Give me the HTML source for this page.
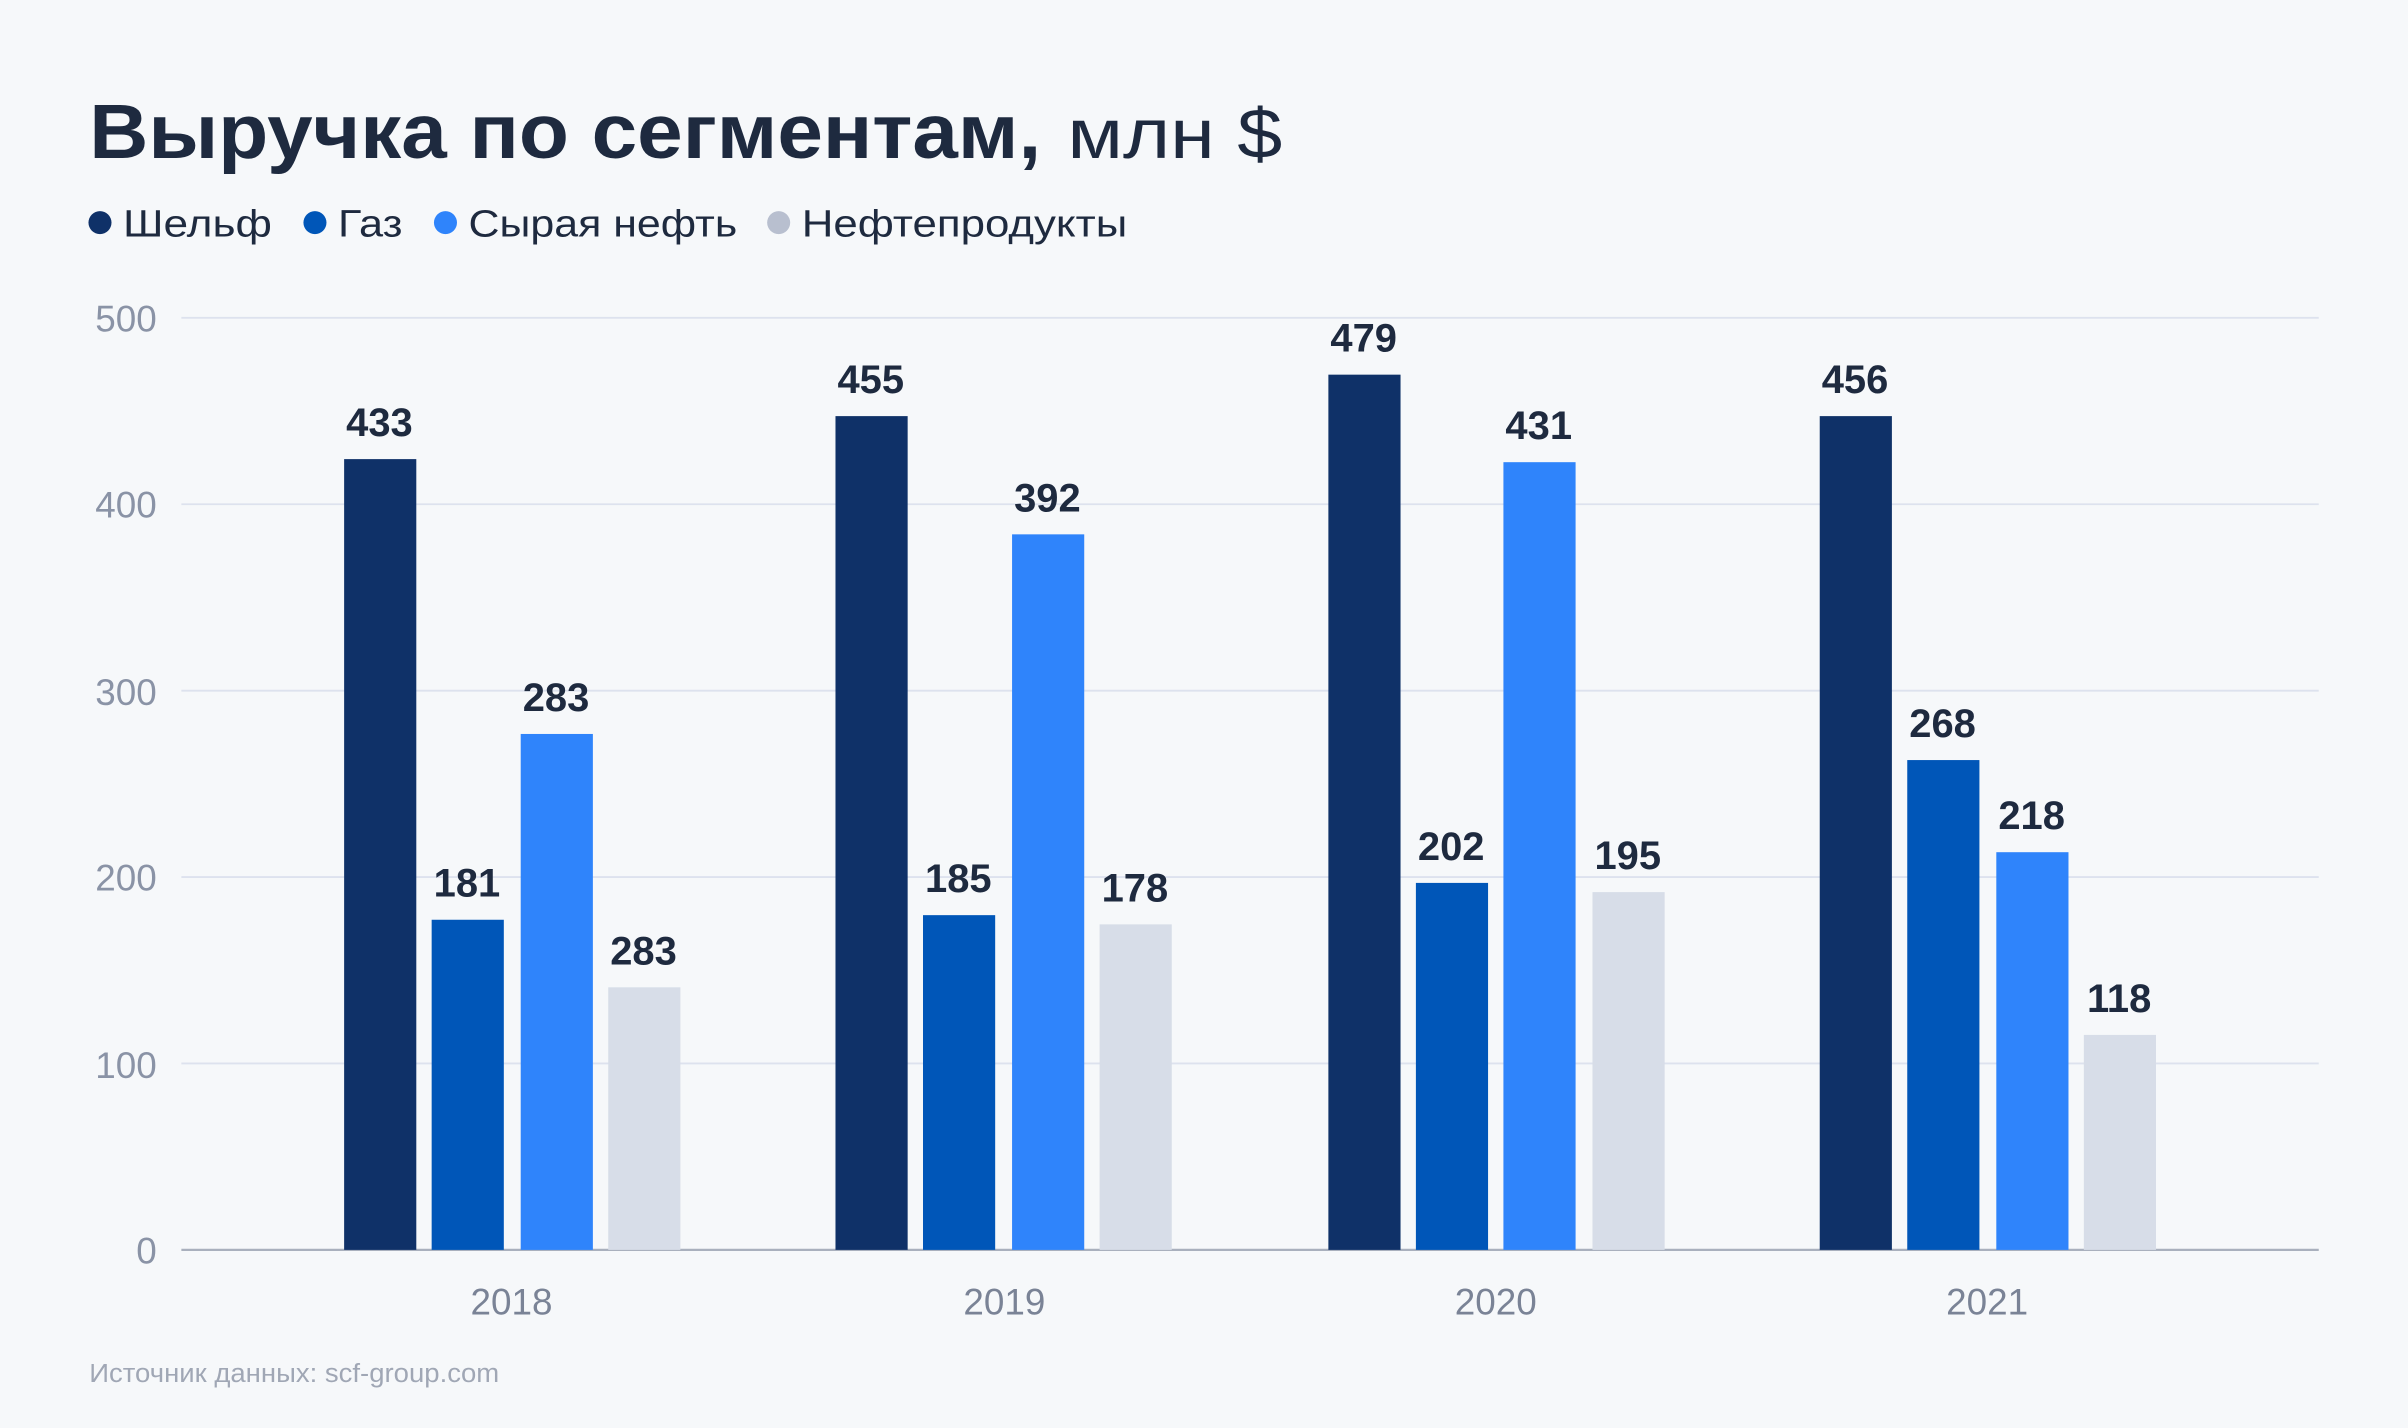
<!DOCTYPE html>
<html><head><meta charset="utf-8"><style>
html,body{margin:0;padding:0;background:#f6f8fa;}
svg{display:block;font-family:"Liberation Sans","DejaVu Sans",sans-serif;}
</style></head><body>
<svg width="2408" height="1428" viewBox="0 0 1568 930" xmlns="http://www.w3.org/2000/svg">
<rect width="1568" height="930" fill="#f6f8fa"/>
<text x="58" y="103" font-size="50" font-weight="bold" fill="#1e2a3f" textLength="620" lengthAdjust="spacingAndGlyphs">Выручка по сегментам,</text>
<text x="695" y="103" font-size="46" fill="#1e2a3f" textLength="140" lengthAdjust="spacingAndGlyphs">млн $</text>
<g font-size="25" fill="#1e2a3f">
<circle cx="65" cy="145" r="7.5" fill="#0f3168"/><text x="80" y="154" textLength="97" lengthAdjust="spacingAndGlyphs">Шельф</text>
<circle cx="205" cy="145" r="7.5" fill="#0056b8"/><text x="220" y="154" textLength="42" lengthAdjust="spacingAndGlyphs">Газ</text>
<circle cx="290" cy="145" r="7.5" fill="#2f84fb"/><text x="305" y="154" textLength="175" lengthAdjust="spacingAndGlyphs">Сырая нефть</text>
<circle cx="507" cy="145" r="7.5" fill="#b8bfcf"/><text x="522" y="154" textLength="212" lengthAdjust="spacingAndGlyphs">Нефтепродукты</text>
</g>
<g stroke="#dde2ee" stroke-width="1.2">
<line x1="118" y1="207" x2="1510" y2="207"/>
<line x1="118" y1="328.4" x2="1510" y2="328.4"/>
<line x1="118" y1="449.8" x2="1510" y2="449.8"/>
<line x1="118" y1="571.2" x2="1510" y2="571.2"/>
<line x1="118" y1="692.6" x2="1510" y2="692.6"/>
</g>
<line x1="118" y1="814" x2="1510" y2="814" stroke="#a9b0bd" stroke-width="1.5"/>
<g font-size="24" fill="#8a93a6" text-anchor="end">
<text x="102" y="216">500</text><text x="102" y="337">400</text><text x="102" y="459">300</text>
<text x="102" y="580">200</text><text x="102" y="702">100</text><text x="102" y="823">0</text>
</g>
<g font-size="24" fill="#7a8396" text-anchor="middle">
<text x="333" y="856">2018</text><text x="654" y="856">2019</text><text x="974" y="856">2020</text><text x="1294" y="856">2021</text>
</g>
<g>
<rect x="224" y="299" width="47" height="515" fill="#0f3168"/>
<rect x="281" y="599" width="47" height="215" fill="#0056b8"/>
<rect x="339" y="478" width="47" height="336" fill="#2f84fb"/>
<rect x="396" y="643" width="47" height="171" fill="#d7dde8"/>
<rect x="544" y="271" width="47" height="543" fill="#0f3168"/>
<rect x="601" y="596" width="47" height="218" fill="#0056b8"/>
<rect x="659" y="348" width="47" height="466" fill="#2f84fb"/>
<rect x="716" y="602" width="47" height="212" fill="#d7dde8"/>
<rect x="865" y="244" width="47" height="570" fill="#0f3168"/>
<rect x="922" y="575" width="47" height="239" fill="#0056b8"/>
<rect x="979" y="301" width="47" height="513" fill="#2f84fb"/>
<rect x="1037" y="581" width="47" height="233" fill="#d7dde8"/>
<rect x="1185" y="271" width="47" height="543" fill="#0f3168"/>
<rect x="1242" y="495" width="47" height="319" fill="#0056b8"/>
<rect x="1300" y="555" width="47" height="259" fill="#2f84fb"/>
<rect x="1357" y="674" width="47" height="140" fill="#d7dde8"/>
</g>
<g font-size="26" font-weight="bold" fill="#1e2a3f" text-anchor="middle">
<text x="247" y="284">433</text><text x="304" y="584">181</text><text x="362" y="463">283</text><text x="419" y="628">283</text>
<text x="567" y="256">455</text><text x="624" y="581">185</text><text x="682" y="333">392</text><text x="739" y="587">178</text>
<text x="888" y="229">479</text><text x="945" y="560">202</text><text x="1002" y="286">431</text><text x="1060" y="566">195</text>
<text x="1208" y="256">456</text><text x="1265" y="480">268</text><text x="1323" y="540">218</text><text x="1380" y="659">118</text>
</g>
<text x="58" y="900" font-size="17" fill="#a0a7b5" textLength="267" lengthAdjust="spacingAndGlyphs">Источник данных: scf-group.com</text>
</svg>
</body></html>
